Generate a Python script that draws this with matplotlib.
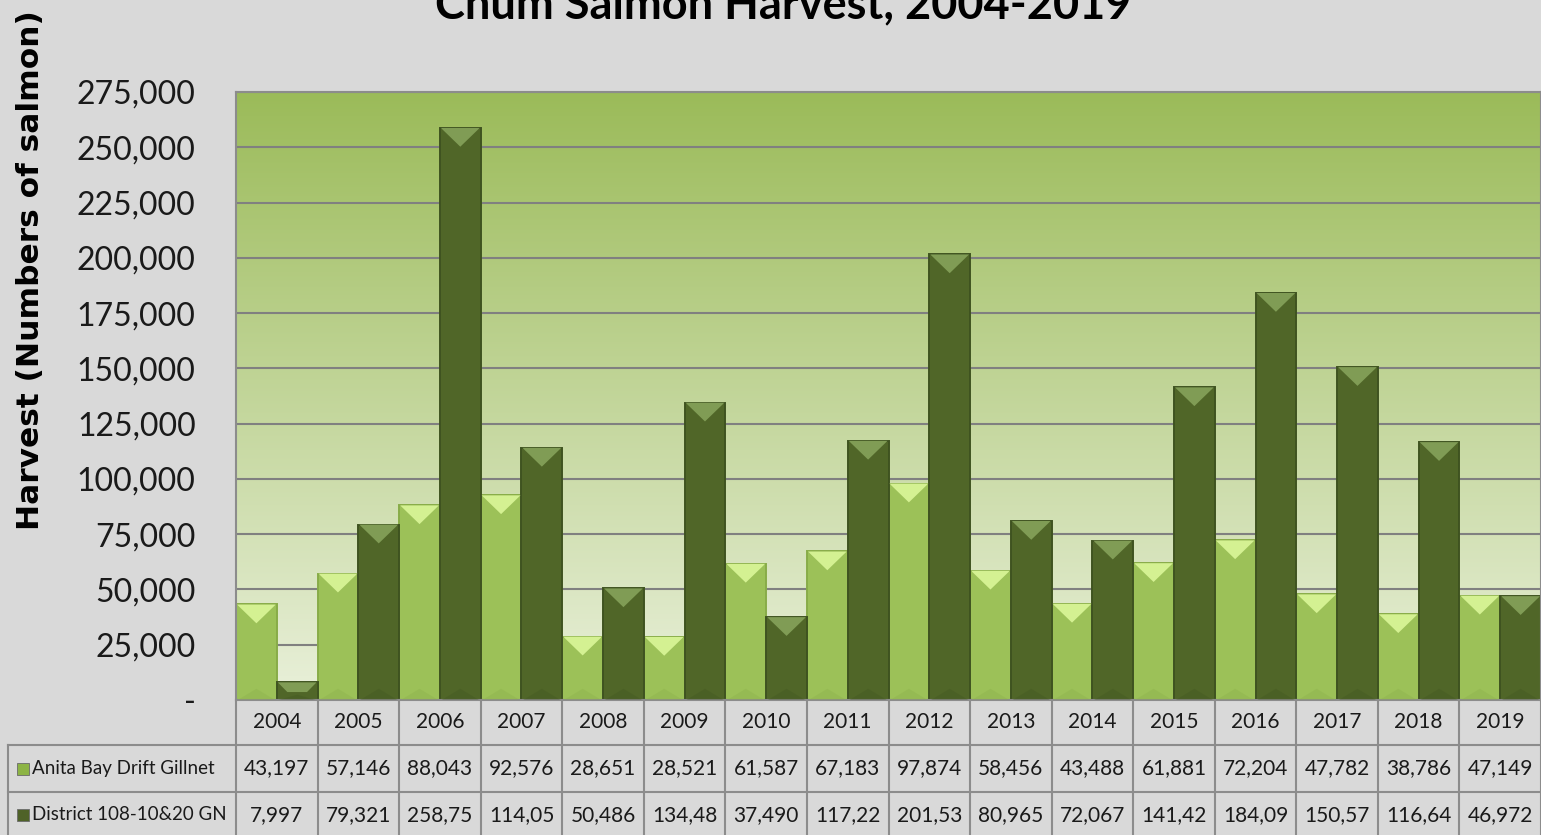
import matplotlib.pyplot as plt
import matplotlib.transforms as mtransforms
from matplotlib.patches import Polygon, Rectangle
from matplotlib.lines import Line2D
import numpy as np

plt.rcParams['font.family'] = ['Lato', 'DejaVu Sans']

# データ
years = ['2004', '2005', '2006', '2007', '2008', '2009', '2010', '2011',
         '2012', '2013', '2014', '2015', '2016', '2017', '2018', '2019']
anita_bay = [43197, 57146, 88043, 92576, 28651, 28521, 61587, 67183,
             97874, 58456, 43488, 61881, 72204, 47782, 38786, 47149]
district_108 = [7997, 79321, 258750, 114050, 50486, 134480, 37490, 117220,
                201530, 80965, 72067, 141420, 184090, 150570, 116640, 46972]
series_names = ['Anita Bay Drift Gillnet', 'District 108-10&20 GN']
y_ticks = list(range(0, 275001, 25000))

W, H = 1541, 835
BG = '#D9D9D9'
GRID = '#808080'

fig = plt.figure(figsize=(W / 100, H / 100), dpi=100, facecolor=BG)
ax = fig.add_axes([236 / W, 1 - 700 / H, 1305 / W, 608 / H])
ax.set_xlim(-0.5, len(years) - 0.5)
ax.set_ylim(0, 275000)

# 背景グラデーション
top_c = np.array([155, 187, 89]) / 255
bot_c = np.array([233, 240, 218]) / 255
t = np.linspace(0, 1, 256)[:, None]
grad = (bot_c[None, :] * (1 - t) + top_c[None, :] * t)[:, None, :]
ax.imshow(grad, extent=[-0.5, len(years) - 0.5, 0, 275000], aspect='auto',
          origin='lower', zorder=0)

ax.set_yticks(y_ticks)
ax.set_yticklabels(['-'] + [f'{v:,}' for v in y_ticks[1:]])
ax.yaxis.grid(True, color=GRID, lw=1.5)
ax.set_axisbelow(True)
ax.tick_params(axis='y', length=0, pad=29, labelsize=23, labelcolor='#1a1a1a')
ax.tick_params(axis='x', length=0, labelbottom=False)
for s in ax.spines.values():
    s.set_color('#8c8c8c')
    s.set_linewidth(1.5)

x = np.arange(len(years))
w = 0.5
styles = [
    (anita_bay, -0.25, '#9CC158', '#D4F192', '#88AC48'),
    (district_108, 0.25, '#506628', '#809C55', '#3F5320'),
]
D = 8500  # 面取りの深さ
for vals, off, body, hi, edge in styles:
    ax.bar(x + off, vals, width=w, color=body, edgecolor=edge, lw=1.4, zorder=2)
    for xi, v in zip(x + off, vals):
        x0, x1 = xi - w / 2, xi + w / 2
        d = min(D, 0.55 * v)
        f = d / D
        hw = w / 2
        pts = [(x0 + 0.012, v), (x1 - 0.012, v),
               (xi + hw * (1 - f), v - d), (xi - hw * (1 - f), v - d)]
        ax.add_patch(Polygon(pts, closed=True, color=hi, lw=0, zorder=3))
        # 下部の面
        db = min(D * 0.6, 0.3 * v)
        ax.add_patch(Polygon([(x0 + 0.02, 0), (x1 - 0.02, 0), (xi, db)],
                             closed=True, color=edge, alpha=0.3, lw=0, zorder=3))

# データテーブル
trans = mtransforms.blended_transform_factory(ax.transData, ax.transAxes)
ah = 608.0
r1, r2, r3 = -45 / ah, -92 / ah, -140 / ah
left = -228 / 1305
TC = '#8c8c8c'
for k in range(len(years) + 1):
    ax.add_line(Line2D([k - 0.5, k - 0.5], [0, r3], transform=trans, color=TC,
                       lw=1.5, clip_on=False))
for yy in (r1, r2):
    ax.add_line(Line2D([left, 1], [yy, yy], transform=ax.transAxes, color=TC,
                       lw=1.5, clip_on=False))
ax.add_line(Line2D([left, left], [r1, r3], transform=ax.transAxes, color=TC,
                   lw=1.5, clip_on=False))

fs = 15
for i, yr in enumerate(years):
    ax.text(i, (0 + r1) / 2, yr, transform=trans, ha='center', va='center',
            fontsize=fs, color='#1a1a1a', clip_on=False)
    ax.text(i, (r1 + r2) / 2, f'{anita_bay[i]:,}', transform=trans, ha='center',
            va='center', fontsize=fs, color='#1a1a1a', clip_on=False)
    ax.text(i, r2 - 23 / ah, f'{district_108[i]:,}'[:6], transform=trans,
            ha='center', va='center', fontsize=fs, color='#1a1a1a', clip_on=False)

sq_w, sq_h = 12 / 1305, 12 / ah
for name, ymid, col in [(series_names[0], (r1 + r2) / 2, '#8DB445'),
                        (series_names[1], r2 - 23 / ah, '#4F6228')]:
    ax.add_patch(Rectangle((left + 9 / 1305, ymid - sq_h / 2), sq_w, sq_h,
                           transform=ax.transAxes, facecolor=col,
                           edgecolor='#6b6b6b', lw=0.6, clip_on=False))
    ax.text(left + 24 / 1305, ymid, name, transform=ax.transAxes, ha='left',
            va='center', fontsize=13.5, color='#1a1a1a', clip_on=False)

# タイトルと軸ラベル
fig.text(783 / W, 1 - 18 / H, 'Chum Salmon Harvest, 2004-2019', ha='center',
         va='baseline', fontsize=32.5, fontweight='bold', color='black')
fig.text(31 / W, 1 - 530 / H, 'Harvest (Numbers of salmon)', rotation=90,
         ha='center', va='bottom', fontsize=22.5, fontweight='bold',
         family='DejaVu Sans', color='black')

fig.savefig('out.png', dpi=100, facecolor=BG)
